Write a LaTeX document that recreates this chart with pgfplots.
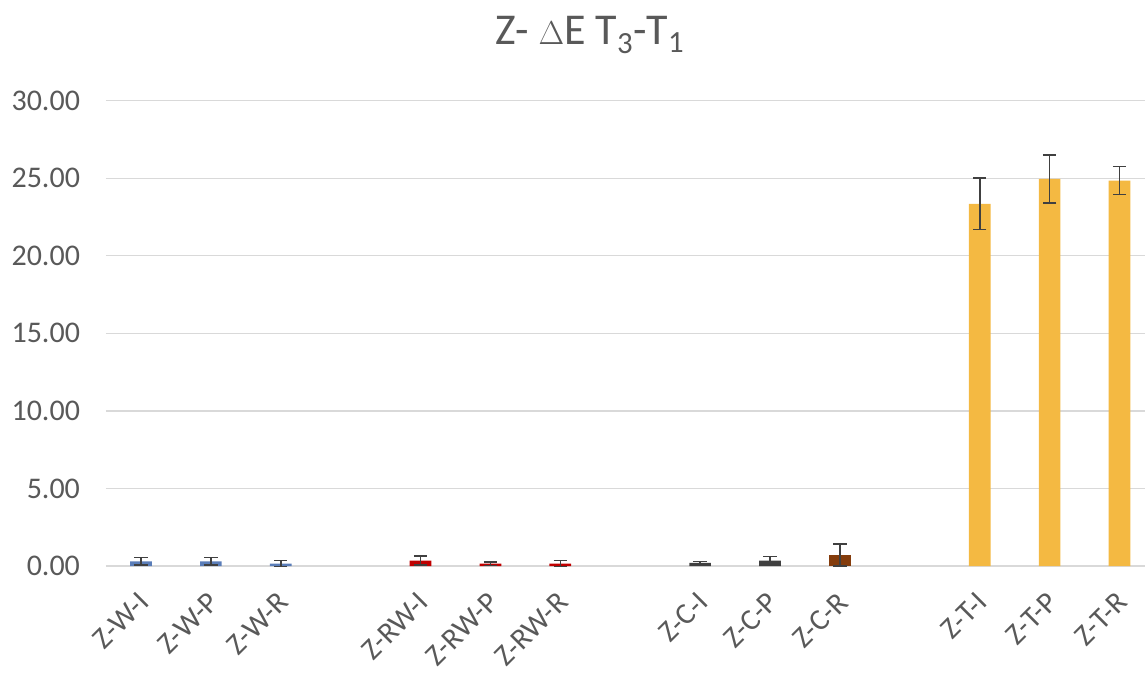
\documentclass[border=0pt]{standalone}
\usepackage{pgfplots}
\pgfplotsset{compat=1.18}
\usepackage{fontspec}
\setmainfont{Carlito}
\definecolor{txt}{HTML}{595959}
\definecolor{gridc}{HTML}{D9D9D9}
\definecolor{cW}{HTML}{5A7DB8}
\definecolor{cRW}{HTML}{C00000}
\definecolor{cC}{HTML}{404040}
\definecolor{cCR}{HTML}{843C0C}
\definecolor{cT}{HTML}{F4B942}
\definecolor{err}{HTML}{404040}
\begin{document}
\begin{tikzpicture}
\path[use as bounding box] (-79.5pt,-81.75pt) rectangle (780.75pt,424.5pt);
\begin{axis}[
  at={(0,0)}, anchor=south west,
  scale only axis, width=779pt, height=349pt,
  xmin=-0.5, xmax=14.36, ymin=0, ymax=30,
  ytick={0,5,...,30},
  yticklabel style={/pgf/number format/fixed, /pgf/number format/fixed zerofill, /pgf/number format/precision=2, /pgf/number format/assume math mode=true},
  yticklabel style={font=\fontsize{22.5}{26}\selectfont, color=txt, anchor=east, xshift=-16pt},
  xtick={0,1,2,4,5,6,8,9,10,12,13,14},
  xticklabels={Z-W-I,Z-W-P,Z-W-R,Z-RW-I,Z-RW-P,Z-RW-R,Z-C-I,Z-C-P,Z-C-R,Z-T-I,Z-T-P,Z-T-R},
  xticklabel style={font=\fontsize{22.5}{26}\selectfont, color=txt, xshift=-3pt, yshift=-14pt, rotate=45, anchor=north east, inner sep=0pt},
  tick style={draw=none},
  axis line style={draw=none},
  ymajorgrids, xmajorgrids=false, grid style={color=gridc, line width=1pt},
  ybar, bar width=0.31,
  title={Z- $\Delta$E T\textsubscript{3}-T\textsubscript{1}},
  title style={font=\fontsize{33}{38}\selectfont, color=txt, at={(0.466,1)}, anchor=south, yshift=26pt},
  error bars/y dir=both, error bars/y explicit,
  error bars/error mark options={rotate=90, mark size=5pt, line width=1.2pt, color=err},
  error bars/error bar style={line width=1.2pt, color=err},
]
\draw[gridc, line width=1pt] (axis cs:-0.5,0) -- (axis cs:14.36,0);
\addplot[fill=cW, draw=none, bar shift=0pt] coordinates {(0,0.30) +- (0,0.25) (1,0.30) +- (0,0.25) (2,0.15) +- (0,0.20)};
\addplot[fill=cRW, draw=none, bar shift=0pt] coordinates {(4,0.35) +- (0,0.30) (5,0.15) +- (0,0.12) (6,0.15) +- (0,0.20)};
\addplot[fill=cC, draw=none, bar shift=0pt] coordinates {(8,0.20) +- (0,0.08) (9,0.35) +- (0,0.25)};
\addplot[fill=cCR, draw=none, bar shift=0pt] coordinates {(10,0.70) +- (0,0.70)};
\addplot[fill=cT, draw=none, bar shift=0pt] coordinates {(12,23.35) +- (0,1.65) (13,24.95) +- (0,1.55) (14,24.85) +- (0,0.90)};
\end{axis}
\end{tikzpicture}
\end{document}
